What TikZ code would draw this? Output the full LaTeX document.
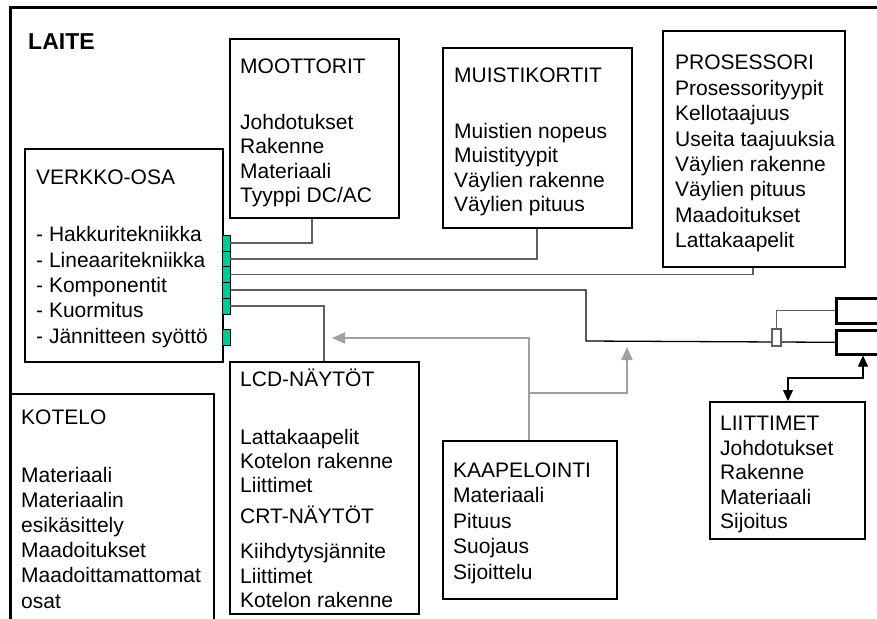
\documentclass[tikz,border=0pt]{standalone}
\usepackage{fontspec}
\setmainfont{Liberation Sans}
\usetikzlibrary{arrows.meta}
\definecolor{pingreen}{RGB}{0,200,150}
\definecolor{linegray}{RGB}{95,95,95}
\definecolor{arrowgray}{RGB}{160,160,160}
\begin{document}
\begin{tikzpicture}[x=1pt,y=-1pt,
  frame/.style={draw, line width=1.8pt, inner sep=0pt, anchor=north west},
  heavy/.style={frame, line width=2.6pt},
  txt/.style={anchor=base west, inner sep=0pt, font=\fontsize{21}{25}\selectfont},
  pin/.style={draw, fill=pingreen, line width=0.7pt, minimum width=8pt, minimum height=16pt, inner sep=0pt},
  conn/.style={draw=linegray, line width=1.3pt},
  blk/.style={draw=black, line width=1.3pt},
  garrow/.style={draw=arrowgray, line width=2pt, -{Triangle[length=13pt,width=11pt]}},
  darrow/.style={draw=black, line width=1.2pt, {Triangle[length=11pt,width=10pt]}-{Triangle[length=11pt,width=10pt]}}
]
\useasboundingbox (0,0) rectangle (877,618);
\clip (0,0) rectangle (877,618);
\fill[white] (0,0) rectangle (877,618);

% outer device frame
\node[heavy, minimum width=1000pt, minimum height=700pt] (laite) at (9,6) {};
\node[anchor=base west, inner sep=0pt, font=\fontsize{23}{27}\selectfont\bfseries] (laitet) at (28,49) {LAITE};

% boxes
\node[frame, minimum width=169pt, minimum height=179pt] (moot) at (229,38) {};
\node[frame, minimum width=189pt, minimum height=180pt] (muis) at (442,47) {};
\node[frame, minimum width=182pt, minimum height=236pt] (proc) at (662,30) {};
\node[frame, minimum width=198pt, minimum height=213pt] (verk) at (24,148) {};
\node[frame, minimum width=203pt, minimum height=300pt] (kote) at (10,393) {};
\node[frame, minimum width=189pt, minimum height=252pt] (lcd) at (229,361) {};
\node[frame, minimum width=174pt, minimum height=158pt] (kaap) at (442,440) {};
\node[frame, minimum width=155pt, minimum height=137pt] (liit) at (709,401) {};
\node[heavy, minimum width=100pt, minimum height=25pt] (rb1) at (835,297) {};
\node[heavy, minimum width=100pt, minimum height=24pt] (rb2) at (835,329) {};

% box texts
\foreach \y/\t [count=\i] in {73/MOOTTORIT, 129/Johdotukset, 153.5/Rakenne, 178/Materiaali, 202.5/{Tyyppi DC/AC}}
  \node[txt] (mt\i) at (240,\y) {\t};
\foreach \y/\t [count=\i] in {82/MUISTIKORTIT, 138/Muistien nopeus, 162.5/Muistityypit, 187/Väylien rakenne, 211.5/Väylien pituus}
  \node[txt] (mu\i) at (454,\y) {\t};
\foreach \y/\t [count=\i] in {70/PROSESSORI, 95/Prosessorityypit, 120.5/Kellotaajuus, 146/Useita taajuuksia, 171/Väylien rakenne, 196.5/Väylien pituus, 222/Maadoitukset, 247/Lattakaapelit}
  \node[txt] (pr\i) at (675,\y) {\t};
\foreach \y/\t [count=\i] in {184.3/VERKKO-OSA, 241.7/- Hakkuritekniikka, 267/- Lineaaritekniikka, 292.3/- Komponentit, 317.6/- Kuormitus, 343/- Jännitteen syöttö}
  \node[txt] (ve\i) at (36,\y) {\t};
\foreach \y/\t [count=\i] in {424/KOTELO, 482/Materiaali, 507.2/Materiaalin, 532.4/esikäsittely, 557.6/Maadoitukset, 582.8/Maadoittamattomat, 608/osat}
  \node[txt] (ko\i) at (21,\y) {\t};
\foreach \y/\t [count=\i] in {386.5/LCD-NÄYTÖT, 444/Lattakaapelit, 468/Kotelon rakenne, 492/Liittimet, 523/CRT-NÄYTÖT, 558/Kiihdytysjännite, 583/Liittimet, 607/Kotelon rakenne}
  \node[txt] (ld\i) at (240,\y) {\t};
\foreach \y/\t [count=\i] in {477/KAAPELOINTI, 502.5/Materiaali, 528/Pituus, 553.5/Suojaus, 579/Sijoittelu}
  \node[txt] (ka\i) at (453,\y) {\t};
\foreach \y/\t [count=\i] in {430.5/LIITTIMET, 455.5/Johdotukset, 479.5/Rakenne, 504.5/Materiaali, 528.5/Sijoitus}
  \node[txt] (li\i) at (720,\y) {\t};

% connector pins on the mains section
\node[pin] (p1) at (226,243) {};
\node[pin] (p2) at (226,259) {};
\node[pin] (p3) at (226,274.5) {};
\node[pin] (p4) at (226,290) {};
\node[pin] (p5) at (226,306) {};
\node[pin] (p6) at (226,337.5) {};

% wiring from the pins
\draw[conn] (p1.east) -| ([xshift=83pt]moot.south west);
\draw[conn] (p2.east) -| ([xshift=95pt]muis.south west);
\draw[conn] (p3.east) -| ([xshift=91pt]proc.south west);
\draw[conn] (p5.east) -| ([xshift=95pt]lcd.north west);
\coordinate (bend) at (586,341);
\draw[blk] (p4.east) -| (bend) -- (rb2.west);
\node[draw=linegray, fill=white, line width=1.2pt, minimum width=9pt, minimum height=17pt, inner sep=0pt] (fuse) at (776.5,337.5) {};
\draw[conn] (rb1.west) -| (fuse.north);

% cabling arrows
\coordinate (ljoin) at (529,393);
\coordinate (lcdtip) at (332,338);
\coordinate (uptip) at (627,347);
\draw[garrow] ([xshift=87pt]kaap.north west) |- (lcdtip);
\draw[garrow] (ljoin) -| (uptip);

% connector link
\draw[darrow] ([xshift=79pt]liit.north west) -- ++(0,-23) -| ([xshift=28pt]rb2.south west);
\end{tikzpicture}
\end{document}
